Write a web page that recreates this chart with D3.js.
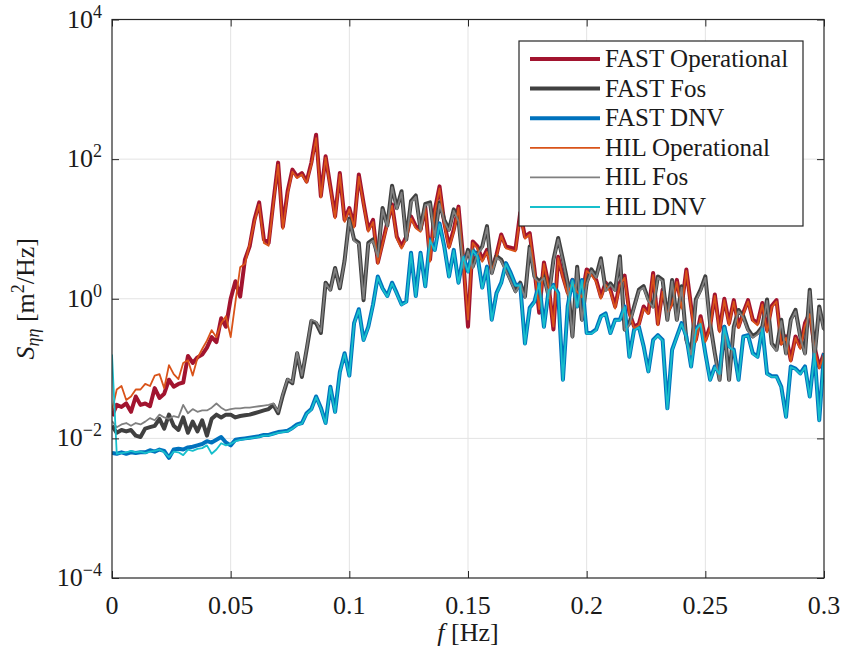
<!DOCTYPE html>
<html>
<head>
<meta charset="utf-8">
<script src="https://cdn.jsdelivr.net/npm/d3@7"></script>
<style>
  body { margin: 0; background: #fff; }
  text { font-family: "Liberation Serif", "Times New Roman", serif; fill: #1a1a1a; }
</style>
</head>
<body>
<svg width="843" height="655"></svg>
<script>
/* global d3 */

// spectra, stored as log10(S) [m^2/Hz], one value every 0.002 Hz
const df = 0.002;

const fastOperational = [
  -1.68, -1.52, -1.55, -1.50, -1.62, -1.40, -1.52, -1.50, -1.54, -1.28,
  -1.42, -1.36, -1.16, -1.26, -1.22, -1.20, -0.82, -0.92, -0.84, -0.80,
  -0.70, -0.55, -0.62, -0.28, -0.40, 0.00, 0.25, 0.03, 0.56, 0.75,
  1.13, 1.38, 0.85, 0.80, 1.39, 1.95, 1.03, 1.54, 1.85, 1.75,
  1.80, 1.68, 1.95, 2.35, 1.47, 2.04, 1.61, 1.18, 1.80, 1.13,
  1.30, 1.05, 1.78, 1.37, 0.99, 1.13, 0.52, 0.80, 1.09, 1.35,
  0.89, 0.75, 0.89, 1.18, 1.04, 0.99, 1.32, 0.56, 1.27, 1.61,
  1.09, 0.75, 0.99, 1.32, 0.56, -0.40, 0.82, 0.75, 0.56, 0.70,
  0.42, 0.63, 0.92, 0.75, 0.73, 0.71, 1.23, 0.89, 0.94, 0.42,
  -0.20, 0.52, 0.19, -0.44, 0.60, 0.32, 0.09, 0.27, 0.13, 0.04,
  0.42, 0.37, 0.27, 0.03, 0.23, 0.13, -0.11, 0.23, 0.33, -0.20,
  -0.40, -0.36, -0.11, -0.20, 0.37, -0.36, 0.13, -0.20, -0.06, 0.27,
  -0.11, 0.42, -0.11, -0.59, -0.25, -0.59, -0.40, 0.06, -0.45, 0.00,
  -0.35, -0.02, -0.40, -0.20, -0.02, -0.30, -0.35, -0.06, -0.45, -0.10,
  -0.02, -0.64, -0.54, -0.88, -0.54, -0.69, -0.35, -0.20, -0.69, -0.98, -0.78
];

const fastFos = [
  -1.82, -1.92, -1.88, -1.90, -1.88, -1.96, -1.98, -1.86, -1.84, -1.82,
  -1.72, -1.86, -1.66, -1.82, -1.88, -1.70, -1.92, -1.76, -1.90, -1.74,
  -1.96, -1.72, -1.66, -1.70, -1.66, -1.66, -1.70, -1.68, -1.67, -1.66,
  -1.64, -1.62, -1.60, -1.58, -1.52, -1.64, -1.38, -1.16, -1.21, -0.78,
  -1.12, -0.73, -0.32, -0.35, -0.49, 0.23, 0.13, 0.44, 0.15, 0.55,
  1.15, 0.85, 0.80, -0.02, 0.80, 0.85, 0.62, 1.30, 1.05, 1.62,
  1.30, 1.54, 0.85, 1.40, 1.48, 1.00, 1.36, 1.38, 0.90, 1.38,
  1.13, 0.99, 1.28, 1.13, 0.46, 0.70, 0.46, 0.66, 0.75, 1.04,
  0.37, 0.61, 0.56, 0.42, 0.27, 0.11, 0.23, 0.03, 0.75, 0.32,
  0.25, 0.32, 0.03, 0.56, 0.87, 0.56, 0.23, -0.54, 0.46, -0.30,
  0.23, 0.42, 0.32, 0.58, 0.13, 0.22, 0.13, 0.61, -0.44, -0.35,
  -0.11, 0.13, 0.18, -0.01, -0.11, 0.32, 0.27, -0.30, 0.27, -0.30,
  0.18, -0.59, -0.78, -0.01, 0.13, 0.32, -0.35, -0.78, -1.16, -0.40,
  -1.16, -0.40, -0.16, -0.25, -0.44, -0.54, -0.49, -0.40, -0.01, -0.64,
  -0.73, -0.30, -0.78, -0.30, -0.16, -0.54, -0.78, 0.13, -0.83, -0.11, -0.44
];

const fastDnv = [
  -2.21, -2.22, -2.20, -2.22, -2.20, -2.21, -2.20, -2.20, -2.17, -2.19,
  -2.16, -2.18, -2.28, -2.16, -2.15, -2.16, -2.13, -2.12, -2.10, -2.08,
  -2.04, -2.06, -2.02, -1.98, -2.06, -2.10, -2.02, -2.01, -2.00, -1.99,
  -1.98, -1.97, -1.95, -1.95, -1.93, -1.91, -1.90, -1.89, -1.85, -1.80,
  -1.78, -1.64, -1.58, -1.40, -1.56, -1.78, -1.26, -1.62, -1.05, -0.78,
  -1.10, -0.35, -0.15, -0.59, -0.40, -0.08, 0.32, 0.15, 0.04, 0.23,
  0.08, -0.08, -0.04, 0.66, 0.04, 0.66, 0.18, 0.85, 0.70, 1.08,
  0.75, 0.32, 0.70, 0.23, 0.61, 0.39, 0.70, 0.61, 0.16, 0.46,
  -0.30, 0.08, 0.23, 0.51, 0.37, 0.20, 0.20, -0.64, -0.13, -0.04,
  0.23, -0.40, 0.13, 0.20, 0.08, -1.16, -0.11, 0.27, -0.11, 0.27,
  -0.49, -0.49, -0.44, -0.25, -0.21, -0.49, -0.30, -0.30, -0.11, -0.83,
  -0.44, -0.40, -0.68, -1.04, -0.59, -0.52, -0.59, -1.57, -0.73, -0.54,
  -0.35, -0.54, -0.97, -0.44, -0.35, -0.78, -1.16, -0.97, -1.07, -0.40,
  -0.68, -0.73, -1.16, -0.54, -0.52, -0.78, -0.83, -0.42, -1.07, -1.11,
  -1.11, -1.26, -1.69, -0.97, -1.00, -1.07, -0.97, -1.40, -0.78, -1.74, -0.78
];

const hilOperational = [
  -1.60, -1.30, -1.25, -1.45, -1.40, -1.30, -1.30, -1.22, -1.25, -1.10,
  -1.08, -1.28, -0.95, -1.08, -1.15, -0.92, -0.88, -1.10, -0.85, -0.72,
  -0.60, -0.45, -0.55, -0.35, -0.25, -0.55, -0.05, 0.45, 0.50, 0.78,
  1.10, 1.35, 0.80, 0.76, 1.36, 1.92, 1.00, 1.50, 1.82, 1.73,
  1.78, 1.66, 1.92, 2.30, 1.45, 2.02, 1.58, 1.15, 1.78, 1.10,
  1.28, 1.02, 1.75, 1.35, 0.96, 1.10, 0.50, 0.78, 1.06, 1.33,
  0.86, 0.72, 0.86, 1.15, 1.01, 0.96, 1.30, 0.53, 1.24, 1.58,
  1.06, 0.72, 0.96, 1.30, 0.53, -0.30, 0.80, 0.72, 0.53, 0.67,
  0.40, 0.60, 0.90, 0.72, 0.70, 0.68, 1.20, 0.86, 0.92, 0.40,
  -0.15, 0.50, 0.16, -0.40, 0.58, 0.30, 0.06, 0.24, 0.10, 0.02,
  0.40, 0.34, 0.24, 0.00, 0.20, 0.10, -0.14, 0.20, 0.30, -0.22,
  -0.42, -0.38, -0.14, -0.22, 0.34, -0.38, 0.10, -0.22, -0.08, 0.24,
  -0.14, 0.40, -0.14, -0.62, -0.28, -0.62, -0.42, 0.04, -0.48, -0.02,
  -0.38, -0.04, -0.42, -0.22, -0.04, -0.32, -0.38, -0.08, -0.48, -0.12,
  -0.04, -0.66, -0.56, -0.90, -0.56, -0.72, -0.38, -0.22, -0.72, -1.00, -0.80
];

const hilFos = [
  -1.75, -1.84, -1.80, -1.78, -1.82, -1.78, -1.80, -1.76, -1.71, -1.74,
  -1.66, -1.70, -1.72, -1.68, -1.70, -1.52, -1.64, -1.58, -1.62, -1.60,
  -1.60, -1.56, -1.50, -1.56, -1.60, -1.58, -1.57, -1.57, -1.56, -1.56,
  -1.55, -1.54, -1.53, -1.52, -1.50, -1.62, -1.36, -1.15, -1.20, -0.77,
  -1.10, -0.72, -0.30, -0.33, -0.47, 0.22, 0.12, 0.43, 0.16, 0.53,
  1.13, 0.83, 0.78, 0.00, 0.78, 0.83, 0.60, 1.28, 1.03, 1.60,
  1.28, 1.52, 0.83, 1.38, 1.46, 0.98, 1.34, 1.36, 0.88, 1.36,
  1.11, 0.97, 1.26, 1.11, 0.44, 0.68, 0.44, 0.64, 0.73, 1.02,
  0.35, 0.59, 0.54, 0.40, 0.25, 0.09, 0.21, 0.01, 0.73, 0.30,
  0.23, 0.30, 0.01, 0.54, 0.85, 0.54, 0.21, -0.56, 0.44, -0.32,
  0.21, 0.40, 0.30, 0.56, 0.11, 0.20, 0.11, 0.59, -0.46, -0.37,
  -0.13, 0.11, 0.16, -0.03, -0.13, 0.30, 0.25, -0.32, 0.25, -0.32,
  0.16, -0.61, -0.80, -0.03, 0.11, 0.30, -0.37, -0.80, -1.18, -0.42,
  -1.18, -0.42, -0.18, -0.27, -0.46, -0.56, -0.51, -0.42, -0.03, -0.66,
  -0.75, -0.32, -0.80, -0.32, -0.18, -0.56, -0.80, 0.11, -0.85, -0.13, -0.46
];

const hilDnv = [
  -0.80, -2.22, -2.21, -2.20, -2.18, -2.20, -2.19, -2.21, -2.19, -2.18,
  -2.16, -2.20, -2.27, -2.19, -2.20, -2.24, -2.16, -2.18, -2.15, -2.14,
  -2.10, -2.22, -2.16, -2.07, -2.10, -2.08, -2.04, -2.02, -2.01, -2.00,
  -1.99, -1.98, -1.96, -1.96, -1.94, -1.92, -1.91, -1.90, -1.86, -1.81,
  -1.79, -1.65, -1.59, -1.41, -1.57, -1.79, -1.27, -1.63, -1.06, -0.79,
  -1.11, -0.36, -0.16, -0.60, -0.41, -0.09, 0.31, 0.14, 0.03, 0.22,
  0.07, -0.09, -0.05, 0.65, 0.03, 0.65, 0.17, 0.84, 0.69, 1.07,
  0.74, 0.31, 0.69, 0.22, 0.60, 0.38, 0.69, 0.60, 0.15, 0.45,
  -0.31, 0.07, 0.22, 0.50, 0.36, 0.19, 0.19, -0.65, -0.14, -0.05,
  0.22, -0.41, 0.12, 0.19, 0.07, -1.17, -0.12, 0.26, -0.12, 0.26,
  -0.50, -0.50, -0.45, -0.26, -0.22, -0.50, -0.31, -0.31, -0.12, -0.84,
  -0.45, -0.41, -0.69, -1.05, -0.60, -0.53, -0.60, -1.58, -0.74, -0.55,
  -0.36, -0.55, -0.98, -0.45, -0.36, -0.79, -1.17, -0.98, -1.08, -0.41,
  -0.69, -0.74, -1.17, -0.55, -0.53, -0.79, -0.84, -0.43, -1.08, -1.12,
  -1.12, -1.27, -1.70, -0.98, -1.01, -1.08, -0.98, -1.41, -0.79, -1.75, -0.79
];

const seriesNames = ["FAST Operational", "FAST Fos", "FAST DNV", "HIL Operational", "HIL Fos", "HIL DNV"];
const seriesData = [fastOperational, fastFos, fastDnv, hilOperational, hilFos, hilDnv];
const seriesColors = ["#a2142f", "#404040", "#0072bd", "#d95319", "#808080", "#17bfcc"];
const seriesWidths = [4, 4, 4, 1.8, 1.8, 1.8];

const xTicks = [0, 0.05, 0.1, 0.15, 0.2, 0.25, 0.3];
const xTickLabels = ["0", "0.05", "0.1", "0.15", "0.2", "0.25", "0.3"];
const yTicks = [1e-4, 1e-2, 1e0, 1e2, 1e4];
const yTickExponents = ["\u22124", "\u22122", "0", "2", "4"];

const width = 843,
    height = 655,
    margin = ({ top: 19.5, right: 19, bottom: 77, left: 112 });

const svg = d3.select("svg");

const x = d3.scaleLinear()
    .domain([0, 0.3])
    .range([margin.left, width - margin.right]);

const y = d3.scaleLog()
    .domain([1e-4, 1e4])
    .range([height - margin.bottom, margin.top]);

// grid
svg.append("g")
    .selectAll("line")
    .data(xTicks.slice(1, -1))
    .join("line")
    .attr("x1", d => x(d)).attr("x2", d => x(d))
    .attr("y1", y(1e-4)).attr("y2", y(1e4))
    .attr("stroke", "#e3e3e3")
    .attr("stroke-width", 1);

svg.append("g")
    .selectAll("line")
    .data(yTicks.slice(1, -1))
    .join("line")
    .attr("x1", x(0)).attr("x2", x(0.3))
    .attr("y1", d => y(d)).attr("y2", d => y(d))
    .attr("stroke", "#e3e3e3")
    .attr("stroke-width", 1);

// clip
svg.append("clipPath").attr("id", "clip")
    .append("rect")
    .attr("x", x(0)).attr("y", y(1e4))
    .attr("width", x(0.3) - x(0)).attr("height", y(1e-4) - y(1e4));

const line = d3.line()
    .x((d, i) => x(i * df))
    .y(d => y(Math.pow(10, d)));

svg.append("g")
    .attr("clip-path", "url(#clip)")
    .selectAll("path")
    .data(seriesData)
    .join("path")
    .attr("d", d => line(d))
    .attr("fill", "none")
    .attr("stroke", (d, i) => seriesColors[i])
    .attr("stroke-width", (d, i) => seriesWidths[i])
    .attr("stroke-linejoin", "round");

// axes box and inward ticks
const axisColor = "#262626";
const tickLen = 7;

svg.append("rect")
    .attr("x", x(0)).attr("y", y(1e4))
    .attr("width", x(0.3) - x(0)).attr("height", y(1e-4) - y(1e4))
    .attr("fill", "none")
    .attr("stroke", axisColor)
    .attr("stroke-width", 1.2);

svg.append("g")
    .attr("transform", `translate(0,${y(1e-4)})`)
    .call(d3.axisBottom(x).tickValues(xTicks).tickSize(-tickLen).tickFormat(""))
    .call(g => g.select(".domain").remove())
    .call(g => g.selectAll("line").attr("stroke", axisColor));

svg.append("g")
    .attr("transform", `translate(0,${y(1e4)})`)
    .call(d3.axisTop(x).tickValues(xTicks).tickSize(-tickLen).tickFormat(""))
    .call(g => g.select(".domain").remove())
    .call(g => g.selectAll("line").attr("stroke", axisColor));

svg.append("g")
    .attr("transform", `translate(${x(0)},0)`)
    .call(d3.axisLeft(y).tickValues(yTicks).tickSize(-tickLen).tickFormat(""))
    .call(g => g.select(".domain").remove())
    .call(g => g.selectAll("line").attr("stroke", axisColor));

svg.append("g")
    .attr("transform", `translate(${x(0.3)},0)`)
    .call(d3.axisRight(y).tickValues(yTicks).tickSize(-tickLen).tickFormat(""))
    .call(g => g.select(".domain").remove())
    .call(g => g.selectAll("line").attr("stroke", axisColor));

// tick labels
svg.append("g")
    .selectAll("text")
    .data(xTicks)
    .join("text")
    .attr("x", d => x(d))
    .attr("y", y(1e-4) + 36)
    .attr("text-anchor", "middle")
    .style("font-size", "26px")
    .text((d, i) => xTickLabels[i]);

const yLabels = svg.append("g")
    .selectAll("text")
    .data(yTicks)
    .join("text")
    .attr("x", 102)
    .attr("y", d => y(d) + 8)
    .attr("text-anchor", "end")
    .style("font-size", "26px");

yLabels.append("tspan").text("10");
yLabels.append("tspan")
    .attr("dy", -10)
    .style("font-size", "18px")
    .text((d, i) => yTickExponents[i]);

// axis titles
const xTitle = svg.append("text")
    .attr("x", (x(0) + x(0.3)) / 2)
    .attr("y", 641)
    .attr("text-anchor", "middle")
    .style("font-size", "26px");
xTitle.append("tspan").style("font-style", "italic").text("f");
xTitle.append("tspan").text("  [Hz]");

const yTitle = svg.append("text")
    .attr("transform", `translate(34,${(y(1e-4) + y(1e4)) / 2}) rotate(-90)`)
    .attr("text-anchor", "middle")
    .style("font-size", "26px");
yTitle.append("tspan").style("font-style", "italic").text("S");
yTitle.append("tspan").style("font-style", "italic").style("font-size", "18px")
    .attr("dy", 5).text("\u03b7\u03b7");
yTitle.append("tspan").attr("dy", -5).text("  [m");
yTitle.append("tspan").style("font-size", "18px").attr("dy", -10).text("2");
yTitle.append("tspan").attr("dy", 10).text("/Hz]");

// legend
const legend = svg.append("g").attr("transform", "translate(519,41)");

legend.append("rect")
    .attr("width", 284).attr("height", 185)
    .attr("fill", "#fff")
    .attr("stroke", axisColor)
    .attr("stroke-width", 1.2);

const rows = legend.selectAll("g")
    .data(seriesNames)
    .join("g")
    .attr("transform", (d, i) => `translate(0,${18 + i * 29.6})`);

rows.append("line")
    .attr("x1", 11).attr("x2", 81)
    .attr("stroke", (d, i) => seriesColors[i])
    .attr("stroke-width", (d, i) => seriesWidths[i]);

rows.append("text")
    .attr("x", 86)
    .attr("y", 8)
    .style("font-size", "25px")
    .text(d => d);
</script>
</body>
</html>
